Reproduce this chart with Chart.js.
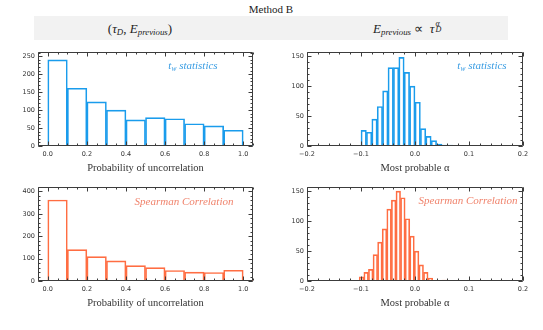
<!DOCTYPE html>
<html><head><meta charset="utf-8">
<script src="https://cdn.jsdelivr.net/npm/chart.js@4"></script>
<style>
body{margin:0;background:#fff;width:543px;height:330px;position:relative;overflow:hidden;font-family:'Liberation Serif',serif;color:#222}
canvas{position:absolute}
.t{position:absolute;white-space:nowrap;transform:translate(-50%,-50%);line-height:1}
.t sub{font-size:0.68em;vertical-align:-0.3em;line-height:0}
.stk{position:relative;display:inline-block;width:0.5em;height:1em;vertical-align:top}
.stk i{position:absolute;left:1px;font-size:0.62em;line-height:1}
.band{position:absolute;left:34px;top:16px;width:474px;height:24px;background:#f2f2f2}
.lab{font-style:italic;font-size:11px}
</style></head><body>
<div class="t" style="left:271px;top:9px;font-size:11px">Method B</div>
<div class="band"></div>
<div class="t" style="left:140px;top:28px;font-size:13px">(<i>τ</i><sub><i>D</i></sub>, <i>E</i><sub><i>previous</i></sub>)</div>
<div class="t" style="left:407px;top:28px;font-size:13px"><i>E</i><sub><i>previous</i></sub> ∝ &nbsp;<i>τ</i><span class="stk"><i style="top:-0.25em">α</i><i style="top:0.55em">D</i></span></div>

<canvas id="c1" width="270" height="135" style="left:0;top:45px"></canvas>
<canvas id="c2" width="273" height="135" style="left:270px;top:45px"></canvas>
<canvas id="c3" width="270" height="135" style="left:0;top:180px"></canvas>
<canvas id="c4" width="273" height="135" style="left:270px;top:180px"></canvas>

<div class="t lab" style="left:193px;top:65px;color:#3a9de3">t<sub>w</sub> statistics</div>
<div class="t lab" style="left:482px;top:65px;color:#3a9de3">t<sub>w</sub> statistics</div>
<div class="t lab" style="left:184px;top:201px;color:#f0836c">Spearman Correlation</div>
<div class="t lab" style="left:468px;top:200px;color:#f0836c">Spearman Correlation</div>

<script>
// ---- data ----
const uncorrBins = [0.05, 0.15, 0.25, 0.35, 0.45, 0.55, 0.65, 0.75, 0.85, 0.95];
const uncorrTw   = [240, 161, 123, 100, 73, 79, 76, 62, 56, 44];
const uncorrSp   = [362, 140, 109, 90, 69, 60, 47, 40, 38, 48];

const alphaBinsTw = [-0.095, -0.085, -0.075, -0.065, -0.055, -0.045, -0.035, -0.025, -0.015, -0.005,
                      0.005, 0.015, 0.025, 0.035, 0.045, 0.055, 0.065];
const alphaTw     = [26, 23, 45, 66, 92, 131, 131, 148, 123, 100, 73, 29, 16, 9, 3, 1.5, 1.5];

const alphaBinsSp = [-0.099, -0.0905, -0.082, -0.0735, -0.065, -0.0565, -0.048, -0.0395, -0.031, -0.0225,
                     -0.014, -0.0055, 0.003, 0.0115, 0.020, 0.0285, 0.037, 0.0455, 0.054];
const alphaSp     = [7, 14.5, 19.5, 44, 65, 87, 120, 135, 150, 139, 104, 75, 50, 27, 14.5, 5, 1, 0, 1.5];

const uncorrTicks = [0, 0.2, 0.4, 0.6, 0.8, 1.0];
const alphaTicks  = [-0.2, -0.1, 0, 0.1, 0.2];

const BLUE = '#1a9cec', ORANGE = '#ff6d42';

const frameTicks = {
  id: 'frameTicks',
  afterDraw(chart, args, o) {
    const {ctx, chartArea: a, scales: {x, y}} = chart;
    ctx.save();
    ctx.strokeStyle = '#3c3c3c';
    ctx.lineWidth = 1;
    ctx.beginPath();
    const L = Math.round(a.left) + 0.5, R = Math.round(a.right) - 0.5;
    const T = Math.round(a.top) + 0.5, B = Math.round(a.bottom) - 0.5;
    ctx.rect(L, T, R - L, B - T);
    const xs = (v, len) => { const p = Math.round(x.getPixelForValue(v)) + 0.5;
      ctx.moveTo(p, B); ctx.lineTo(p, B - len); ctx.moveTo(p, T); ctx.lineTo(p, T + len); };
    const ys = (v, len) => { const p = Math.round(y.getPixelForValue(v)) + 0.5;
      ctx.moveTo(L, p); ctx.lineTo(L + len, p); ctx.moveTo(R, p); ctx.lineTo(R - len, p); };
    for (let k = Math.ceil(x.min / o.xMinor - 1e-9); k * o.xMinor <= x.max + 1e-9; k++) xs(k * o.xMinor, 2);
    for (let k = Math.ceil(y.min / o.yMinor - 1e-9); k * o.yMinor <= y.max + 1e-9; k++) ys(k * o.yMinor, 2);
    x.ticks.forEach(t => xs(t.value, 4));
    y.ticks.forEach(t => ys(t.value, 4));
    ctx.stroke();
    ctx.restore();
  }
};

function panel(id, bins, counts, color, xMin, xMax, xStep, xMinor, yMax, yStep, yMinor, xTitle, yWidth, padRight, baseline) {
  const w = bins[1] - bins[0];
  const datasets = [{
    type: 'bar',
    data: bins.map((b, i) => ({x: b, y: counts[i]})),
    backgroundColor: 'rgba(0,0,0,0)',
    borderColor: color,
    borderWidth: 1,
    borderSkipped: 'start',
    categoryPercentage: 1,
    barPercentage: 1
  }];
  if (baseline) {
    const first = bins[0] - w / 2, last = bins[bins.length - 1] + w / 2;
    datasets.push({
      type: 'line',
      data: [{x: xMin, y: 0}, {x: first, y: 0}, {x: (first + last) / 2, y: null}, {x: last, y: 0}, {x: xMax, y: 0}],
      borderColor: color, borderWidth: 1.5, pointRadius: 0, spanGaps: false
    });
  }
  new Chart(document.getElementById(id), {
    data: {datasets},
    plugins: [frameTicks],
    options: {
      responsive: false, animation: false, devicePixelRatio: 1,
      layout: {padding: {left: 0, top: 7, right: padRight, bottom: 0}},
      plugins: {legend: {display: false}, tooltip: {enabled: false}, frameTicks: {xMinor, yMinor}},
      scales: {
        x: {
          type: 'linear', min: xMin, max: xMax, offset: false,
          grid: {display: false, drawTicks: false}, border: {display: false},
          ticks: {stepSize: xStep, includeBounds: false, padding: 4, color: '#333',
                  font: {family: 'DejaVu Sans', size: 6.5},
                  callback: v => (v < 0 ? '\u2212' : '') + Math.abs(v).toFixed(1), maxRotation: 0},
          title: {display: true, text: xTitle, color: '#333', padding: {top: 0, bottom: 5},
                  font: {family: 'Liberation Serif', size: 10.5}},
          afterFit: s => { s.height = 34; }
        },
        y: {
          type: 'linear', min: 0, max: yMax,
          grid: {display: false, drawTicks: false}, border: {display: false},
          ticks: {stepSize: yStep, includeBounds: false, padding: 3, color: '#333',
                  font: {family: 'DejaVu Sans', size: 6.5}},
          afterFit: s => { s.width = yWidth; }
        }
      }
    }
  });
}

panel('c1', uncorrBins, uncorrTw, BLUE, -0.05, 1.05, 0.2, 0.05, 262, 50, 10, 'Probability of uncorrelation', 38, 17, true);
panel('c2', alphaBinsTw, alphaTw, BLUE, -0.2, 0.2, 0.1, 0.02, 157, 50, 10, 'Most probable \u03b1', 37, 20, false);
panel('c3', uncorrBins, uncorrSp, ORANGE, -0.05, 1.05, 0.2, 0.05, 420, 100, 20, 'Probability of uncorrelation', 38, 17, true);
panel('c4', alphaBinsSp, alphaSp, ORANGE, -0.2, 0.2, 0.1, 0.02, 157, 50, 10, 'Most probable \u03b1', 37, 20, false);
</script>
</body></html>
